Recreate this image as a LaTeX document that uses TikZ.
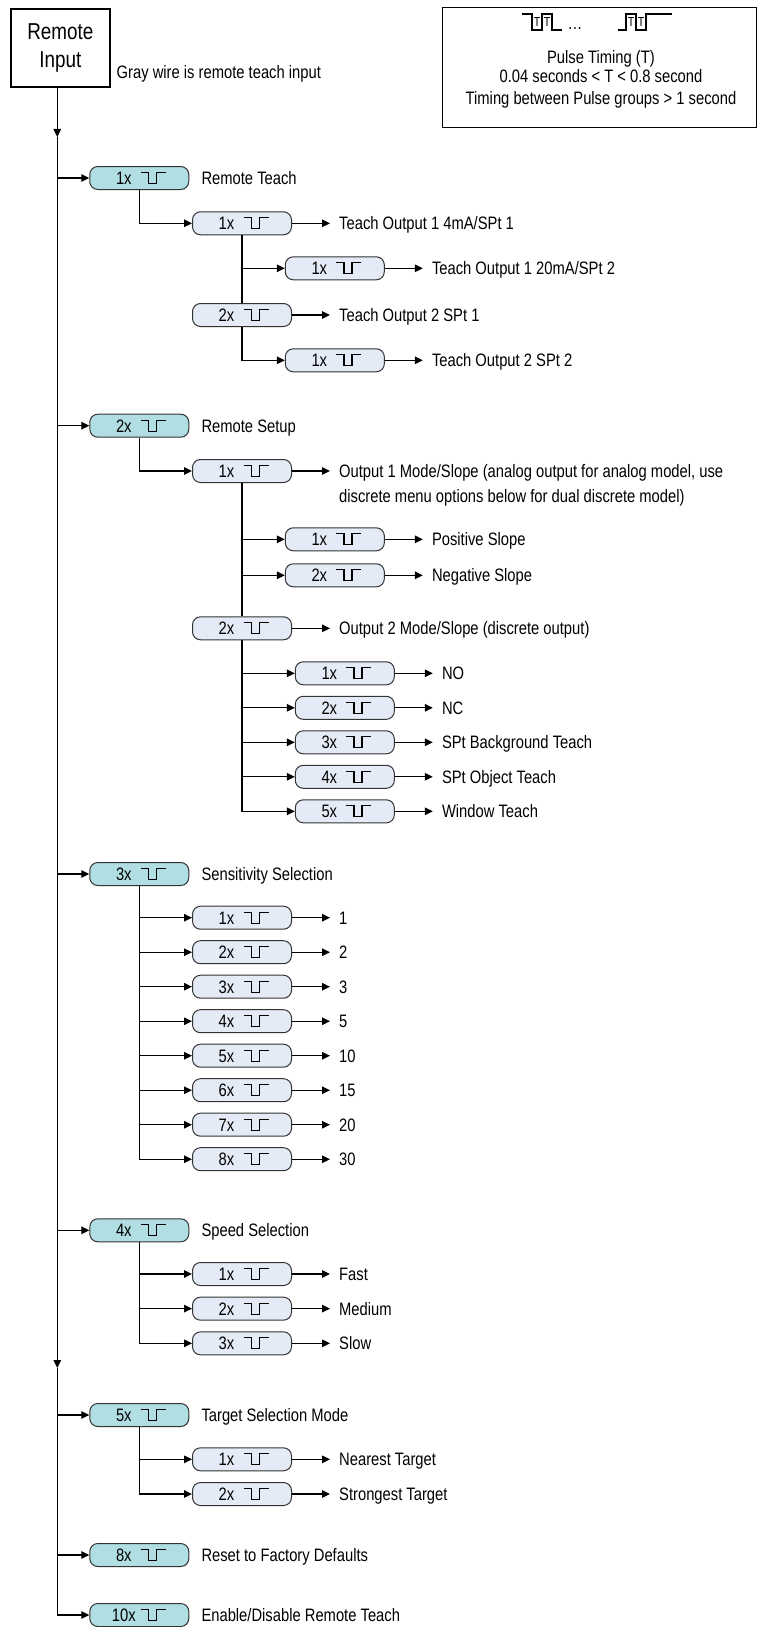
\documentclass[tikz,border=0pt]{standalone}
\usepackage{fontspec}
\setmainfont{Liberation Sans}[FakeStretch=0.82]
\usetikzlibrary{positioning, arrows.meta}
\definecolor{tealfill}{HTML}{B1DEE3}
\definecolor{palefill}{HTML}{E4EBF7}
\definecolor{edge}{HTML}{333333}
\newcommand\lbl[1]{\makebox[62pt][l]{\makebox[31pt]{#1}}}

\begin{document}
\begin{tikzpicture}[x=1pt,y=-1pt,font=\fontsize{18}{22}\selectfont,
  pill/.style={draw=edge,line width=1pt,rounded corners=8pt,minimum width=99pt,
    minimum height=23pt,inner sep=0pt,text height=13pt,text depth=0pt,
    path picture={\draw[sharp corners,draw=black,line width=1.2pt]
      ([xshift=1.5pt,yshift=5.5pt]path picture bounding box.center)
      -- ++(7.7,0) -- ++(0,11) -- ++(8,0) -- ++(0,-11) -- ++(9.3,0);}},
  mainbtn/.style={pill,fill=tealfill},
  subbtn/.style={pill,fill=palefill},
  txt/.style={inner sep=0pt,text height=15pt,text depth=2pt},
  ln/.style={line width=1.3pt},
  arj/.style={ln,-{Triangle[length=8pt,width=7.5pt]}}]
  \useasboundingbox (0,0) rectangle (762,1627);
  % input and pulse timing box
  \node[draw,line width=2.2pt,minimum width=99pt,minimum height=78pt,align=center,
    font=\fontsize{23}{28}\selectfont] (inp) at (60.4,48) {Remote\\Input};
  \node[txt,right=5.5pt of inp.south east,yshift=16.3pt] (gw) {Gray wire is remote teach input};
  \node[draw,line width=1.2pt,minimum width=314pt,minimum height=119.5pt] (tbox) at (599.2,67.5) {};
  \draw[line width=1.2pt] (522,14) -- (532,14) -- (532,30) -- (542,30)
    -- (542,14) -- (552,14) -- (552,30) -- (562,30);
  \draw[line width=1.2pt] (618,30) -- (626,30) -- (626,14) -- (636,14)
    -- (636,30) -- (646,30) -- (646,14) -- (672,14);
  \foreach \x in {537,547,631,641}
    \node[font=\fontsize{13}{13}\selectfont,inner sep=0pt] at (\x,22.5) {T};
  \node[inner sep=0pt,anchor=base] (dots) at (575,30) {\ldots};
  \node[anchor=base] (pt1) at (601,63.3) {Pulse Timing (T)};
  \node[anchor=base] (pt2) at (601,82.7) {0.04 seconds < T < 0.8 second};
  \node[anchor=base] (pt3) at (601,105) {Timing between Pulse groups > 1 second};
  % main menu
  \coordinate (m0) at (57.3,88);
  \coordinate (ma) at (57.3,137);
  \coordinate (mb) at (57.3,1368);
  \foreach \n/\y/\k/\t in {rt/178/1x/Remote Teach, rs/425.7/2x/Remote Setup,
      se/874/3x/Sensitivity Selection, sp/1230.3/4x/Speed Selection,
      ts/1415/5x/Target Selection Mode, rf/1555/8x/Reset to Factory Defaults,
      en/1615/10x/{Enable/Disable Remote Teach}}
    {\node[mainbtn] (\n) at (139.3,\y) {\lbl{\k}};
     \node[txt,right=12pt of \n] (\n-t) {\t};}
  \draw[arj] (m0) -- (ma);
  \draw[arj] (ma) -- (mb);
  \draw[arj] (mb) |- (en);
  \foreach \n in {rt,rs,se,sp,ts,rf}
    \draw[arj] (ma |- \n) -- (\n);
  % sub menus
  \foreach \n/\x/\y/\k/\t in {a1/242/223.3/1x/{Teach Output 1 4mA/SPt 1},
      a11/334.8/268.3/1x/{Teach Output 1 20mA/SPt 2},
      a2/242/315/2x/Teach Output 2 SPt 1, a21/334.8/360.3/1x/Teach Output 2 SPt 2,
      b11/334.8/539.3/1x/Positive Slope, b12/334.8/575.3/2x/Negative Slope,
      b2/242/628.3/2x/{Output 2 Mode/Slope (discrete output)}}
    {\node[subbtn] (\n) at (\x,\y) {\lbl{\k}};
     \node[txt,right=47pt of \n] (\n-t) {\t};
     \draw[arj,shorten >=9pt] (\n) -- (\n-t);}
  \node[subbtn] (b1) at (242,471) {\lbl{1x}};
  \node[inner sep=0pt,align=left,right=47pt of b1,yshift=-14pt] (b1-t)
    {Output 1 Mode/Slope (analog output for analog model, use\\[3pt]discrete menu options below for dual discrete model)};
  \draw[arj,shorten >=9pt] (b1) -- (b1.east -| b1-t.west);
  \foreach \t [count=\k] in {NO,NC,SPt Background Teach,SPt Object Teach,Window Teach}
    {\node[subbtn] (b2\k) at (344.8,673.3+34.5*\k-34.5) {\lbl{\k x}};
     \node[txt,right=47pt of b2\k] (b2\k-t) {\t};
     \draw[arj,shorten >=9pt] (b2\k) -- (b2\k-t);}
  \foreach \t [count=\k] in {1,2,3,5,10,15,20,30}
    {\node[subbtn] (s\k) at (242,917.7+34.5*\k-34.5) {\lbl{\k x}};
     \node[txt,right=47pt of s\k] (s\k-t) {\t};
     \draw[arj,shorten >=9pt] (s\k) -- (s\k-t);}
  \foreach \t [count=\k] in {Fast,Medium,Slow}
    {\node[subbtn] (v\k) at (242,1274+34.65*\k-34.65) {\lbl{\k x}};
     \node[txt,right=47pt of v\k] (v\k-t) {\t};
     \draw[arj,shorten >=9pt] (v\k) -- (v\k-t);}
  \foreach \t [count=\k] in {Nearest Target,Strongest Target}
    {\node[subbtn] (g\k) at (242,1459.3+34.7*\k-34.7) {\lbl{\k x}};
     \node[txt,right=47pt of g\k] (g\k-t) {\t};
     \draw[arj,shorten >=9pt] (g\k) -- (g\k-t);}
  % branch lines
  \draw[arj] (rt) |- (a1);
  \draw[ln] (a1) -- (a2);
  \draw[arj] (a1 |- a11) -- (a11);
  \draw[arj] (a2) |- (a21);
  \draw[arj] (rs) |- (b1);
  \draw[ln] (b1) -- (b2);
  \foreach \n in {b11,b12} \draw[arj] (b1 |- \n) -- (\n);
  \draw[arj] (b2) |- (b25);
  \foreach \k in {1,...,4} \draw[arj] (b2 |- b2\k) -- (b2\k);
  \draw[arj] (se) |- (s8);
  \foreach \k in {1,...,7} \draw[arj] (se |- s\k) -- (s\k);
  \draw[arj] (sp) |- (v3);
  \foreach \k in {1,2} \draw[arj] (sp |- v\k) -- (v\k);
  \draw[arj] (ts) |- (g2);
  \draw[arj] (ts |- g1) -- (g1);
\end{tikzpicture}
\end{document}
